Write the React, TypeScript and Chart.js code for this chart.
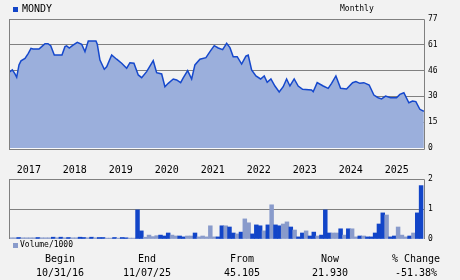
import React, { useEffect, useRef } from "react";
import { Chart, registerables } from "chart.js";

Chart.register(...registerables);

// ---- data ----
const ticker = "MONDY";
const periodLabel = "Monthly";

// dates as fractional years
const priceDates = [
  2016.83, 2016.902, 2016.96, 2016.997, 2017.047, 2017.091, 2017.178, 2017.25, 2017.308, 2017.352,
  2017.482, 2017.541, 2017.613, 2017.678, 2017.737, 2017.815, 2017.982, 2018.047, 2018.084, 2018.141,
  2018.215, 2018.315, 2018.41, 2018.482, 2018.554, 2018.634, 2018.721, 2018.75, 2018.808, 2018.902,
  2018.954, 2019.063, 2019.171, 2019.28, 2019.389, 2019.46, 2019.547, 2019.641, 2019.715, 2019.823,
  2019.967, 2020.041, 2020.15, 2020.221, 2020.293, 2020.402, 2020.476, 2020.563, 2020.619, 2020.715,
  2020.802, 2020.873, 2020.982, 2021.113, 2021.2, 2021.293, 2021.38, 2021.476, 2021.563, 2021.635,
  2021.706, 2021.793, 2021.889, 2021.982, 2022.032, 2022.106, 2022.2, 2022.302, 2022.38, 2022.445,
  2022.526, 2022.613, 2022.706, 2022.793, 2022.867, 2022.939, 2023.032, 2023.119, 2023.215, 2023.41,
  2023.445, 2023.532, 2023.663, 2023.771, 2023.845, 2023.939, 2024.041, 2024.171, 2024.302, 2024.373,
  2024.46, 2024.547, 2024.663, 2024.765, 2024.858, 2024.932, 2025.019, 2025.128, 2025.258, 2025.33,
  2025.417, 2025.526, 2025.606, 2025.678, 2025.765, 2025.852,
];
const priceValues = [
  45.1, 46.6, 44.2, 42.2, 49.6, 52, 53.5, 56.5, 59.5, 59.1,
  59.1, 60.5, 62.3, 62.3, 61.1, 55.5, 55.5, 60.5, 61, 59.7,
  61.3, 63.1, 61.9, 57.5, 63.9, 63.9, 63.9, 61.9, 52.5, 47,
  48.5, 55.5, 53, 50.6, 47.6, 50.9, 50.6, 43.6, 42, 45.6,
  52.1, 45, 44.2, 36.6, 38.6, 41.2, 40.6, 39, 41.8, 46.2,
  41.2, 49.6, 53, 53.9, 57.5, 61.1, 59.7, 58.7, 62.5, 59.9,
  54.5, 54.5, 50.1, 54.9, 55.5, 46.6, 43, 41.2, 43, 39.2,
  41.2, 37, 33.4, 36.6, 41.2, 37, 41.2, 37, 35, 34.6,
  33.6, 39, 37, 35.6, 38.6, 43, 35.6, 35.2, 39, 39.6,
  38.6, 39, 37.6, 31.6, 30, 29.3, 31, 30, 30, 32,
  33, 27, 28, 27.7, 23.1, 21.93,
];
const priceTicks = [0, 15.4, 30.8, 46.2, 61.6, 77];
const yearTicks = [2017, 2018, 2019, 2020, 2021, 2022, 2023, 2024, 2025];
const dateMin = 2016.83;
const dateMax = 2025.855;

// monthly volume (thousands), first bar = Nov 2016
const volumeStartYear = 2016;
const volumeStartMonth = 11;
const volumeValues = [
  0.04, 0.04, 0.05, 0.04, 0.04, 0.04, 0.04, 0.05, 0.04, 0.04,
  0.04, 0.06, 0.04, 0.06, 0.04, 0.05, 0.04, 0.04, 0.06, 0.05,
  0.04, 0.06, 0.04, 0.05, 0.05, 0.03, 0.03, 0.05, 0.03, 0.05,
  0.04, 0.03, 0.03, 0.97, 0.27, 0.06, 0.13, 0.08, 0.11, 0.13,
  0.1, 0.2, 0.13, 0.1, 0.1, 0.07, 0.1, 0.1, 0.2, 0.07,
  0.1, 0.07, 0.44, 0.07, 0.07, 0.44, 0.44, 0.4, 0.2, 0.17,
  0.23, 0.67, 0.54, 0.17, 0.47, 0.44, 0.27, 0.47, 1.14, 0.47,
  0.44, 0.5, 0.57, 0.4, 0.3, 0.07, 0.2, 0.27, 0.1, 0.23,
  0.1, 0.13, 0.97, 0.2, 0.2, 0.2, 0.34, 0.13, 0.34, 0.34,
  0.07, 0.1, 0.1, 0.07, 0.07, 0.2, 0.5, 0.87, 0.8, 0.07,
  0.1, 0.4, 0.13, 0.07, 0.1, 0.2, 0.87, 1.78,
];
// 1 = up month (dark bar), 0 = down month (light bar)
const volumeUp = [
  0, 0, 1, 0, 0, 0, 0, 1, 0, 0,
  0, 1, 0, 1, 0, 1, 0, 0, 1, 1,
  0, 1, 0, 1, 1, 0, 0, 1, 0, 1,
  1, 0, 0, 1, 1, 0, 0, 0, 0, 1,
  1, 1, 0, 0, 1, 1, 0, 0, 1, 0,
  0, 0, 0, 0, 1, 1, 0, 1, 1, 0,
  1, 0, 0, 1, 1, 1, 0, 1, 0, 1,
  1, 0, 0, 1, 0, 1, 1, 0, 1, 1,
  0, 1, 1, 1, 0, 0, 1, 0, 1, 0,
  0, 1, 0, 1, 1, 1, 1, 1, 0, 1,
  1, 0, 0, 0, 1, 0, 1, 1,
];
const volumeTicks = [0, 1, 2];
const volumeLegend = "Volume/1000";

const summaryLabels = ["Begin", "End", "From", "Now", "% Change"];
const summaryValues = ["10/31/16", "11/07/25", "45.105", "21.930", "-51.38%"];

// ---- styles ----
const BG = "#f2f2f2";
const GRID = "#808080";
const LINE = "#1548cc";
const FILL = "#9bafdc";
const DARK_BAR = "#1245c8";
const LIGHT_BAR = "#899bcb";
const MONO = "'DejaVu Sans Mono', 'Liberation Mono', monospace";
const summaryX = [60, 147, 242, 330, 416];

const borderPlugin = (bottomLine: boolean) => ({
  id: "panelBorder",
  afterDatasetsDraw(chart: any) {
    const { ctx, chartArea: a } = chart;
    ctx.save();
    ctx.strokeStyle = GRID;
    ctx.lineWidth = 1;
    ctx.beginPath();
    const bottom = bottomLine ? a.bottom + 1.5 : a.bottom;
    ctx.moveTo(a.left + 0.5, bottom);
    ctx.lineTo(a.left + 0.5, a.top + 0.5);
    ctx.lineTo(a.right + 0.5, a.top + 0.5);
    ctx.lineTo(a.right + 0.5, bottom);
    if (bottomLine) ctx.lineTo(a.left, bottom);
    ctx.stroke();
    if (bottomLine) {
      ctx.strokeStyle = "#fafafa";
      ctx.beginPath();
      ctx.moveTo(a.left + 1, a.bottom + 0.5);
      ctx.lineTo(a.right, a.bottom + 0.5);
      ctx.stroke();
    }
    ctx.restore();
  },
});

export default function App() {
  const priceRef = useRef<HTMLCanvasElement>(null);
  const volRef = useRef<HTMLCanvasElement>(null);

  useEffect(() => {
    document.body.style.margin = "0";
    document.body.style.background = BG;

    const priceChart = new Chart(priceRef.current as HTMLCanvasElement, {
      type: "line",
      data: {
        datasets: [
          {
            data: priceDates.map((d, i) => ({ x: d, y: priceValues[i] })),
            borderColor: LINE,
            backgroundColor: FILL,
            borderWidth: 1.5,
            pointRadius: 0,
            fill: "origin",
            tension: 0,
          },
        ],
      },
      options: {
        responsive: false,
        animation: false,
        events: [],
        layout: { padding: { left: 9, top: 19, right: 0, bottom: 0 } },
        plugins: { legend: { display: false }, tooltip: { enabled: false } },
        scales: {
          x: {
            type: "linear",
            min: dateMin,
            max: dateMax,
            grid: { display: false, drawTicks: false },
            border: { display: false },
            afterBuildTicks: (s: any) => {
              s.ticks = yearTicks.map((v) => ({ value: v }));
            },
            afterFit: (s: any) => {
              s.height = 32;
            },
            ticks: {
              autoSkip: false,
              maxRotation: 0,
              minRotation: 0,
              align: "start",
              padding: 16,
              color: "#000",
              font: { family: MONO, size: 10 },
              callback: (v: any) => String(v),
            },
          },
          y: {
            position: "right",
            min: 0,
            max: 77,
            grid: {
              color: (c: any) => (c.tick && c.tick.value === 0 ? "rgba(0,0,0,0)" : GRID),
              drawTicks: false,
            },
            border: { display: false },
            afterBuildTicks: (s: any) => {
              s.ticks = priceTicks.map((v) => ({ value: v }));
            },
            afterFit: (s: any) => {
              s.width = 36;
            },
            ticks: {
              padding: 4,
              color: "#000",
              font: { family: MONO, size: 8 },
              callback: (v: any) => String(Math.floor(Number(v) + 1e-9)),
            },
          },
        },
      },
      plugins: [borderPlugin(true)],
    });

    const volumeData = volumeValues.map((v, k) => {
      const m = volumeStartMonth - 1 + k;
      const year = volumeStartYear + Math.floor(m / 12);
      const month = (m % 12) + 1;
      return { x: year + (month - 0.5) / 12, y: v };
    });

    const volChart = new Chart(volRef.current as HTMLCanvasElement, {
      type: "bar",
      data: {
        datasets: [
          {
            data: volumeData,
            backgroundColor: volumeUp.map((u) => (u ? DARK_BAR : LIGHT_BAR)),
            borderWidth: 0,
            barPercentage: 1,
            categoryPercentage: 1,
          },
        ],
      },
      options: {
        responsive: false,
        animation: false,
        events: [],
        layout: { padding: { left: 9, top: 14, right: 0, bottom: 11 } },
        plugins: { legend: { display: false }, tooltip: { enabled: false } },
        scales: {
          x: {
            type: "linear",
            min: dateMin,
            max: dateMax,
            offset: false,
            display: false,
          },
          y: {
            position: "right",
            min: 0,
            max: 2,
            grid: {
              color: (c: any) => (c.tick && c.tick.value === 0 ? "rgba(0,0,0,0)" : GRID),
              drawTicks: false,
            },
            border: { display: false },
            afterBuildTicks: (s: any) => {
              s.ticks = volumeTicks.map((v) => ({ value: v }));
            },
            afterFit: (s: any) => {
              s.width = 36;
            },
            ticks: {
              padding: 4,
              color: "#000",
              font: { family: MONO, size: 8 },
              callback: (v: any) => String(v),
            },
          },
        },
      },
      plugins: [borderPlugin(false)],
    });

    return () => {
      priceChart.destroy();
      volChart.destroy();
    };
  }, []);

  const text = (s: string, x: number, y: number, size: number, align: "left" | "center" = "left") => (
    <div
      key={s + x + y}
      style={{
        position: "absolute",
        left: align === "center" ? x - 60 : x,
        width: align === "center" ? 120 : undefined,
        top: y - size / 2 - 1,
        fontFamily: MONO,
        fontSize: size,
        lineHeight: `${size + 2}px`,
        color: "#000",
        textAlign: align,
        whiteSpace: "pre",
      }}
    >
      {s}
    </div>
  );

  return (
    <div style={{ position: "relative", width: 460, height: 280, background: BG, overflow: "hidden" }}>
      <canvas ref={priceRef} width={460} height={180} style={{ position: "absolute", left: 0, top: 0 }} />
      <canvas ref={volRef} width={460} height={85} style={{ position: "absolute", left: 0, top: 165 }} />
      <div style={{ position: "absolute", left: 13, top: 7, width: 5, height: 5, background: DARK_BAR }} />
      {text(ticker, 22, 9, 10)}
      {text(periodLabel, 340, 9, 8)}
      <div style={{ position: "absolute", left: 13, top: 243, width: 5, height: 5, background: LIGHT_BAR }} />
      {text(volumeLegend, 20, 245, 8)}
      {summaryLabels.map((s, i) => text(s, summaryX[i], 259, 10, "center"))}
      {summaryValues.map((s, i) => text(s, summaryX[i], 273, 10, "center"))}
    </div>
  );
}
